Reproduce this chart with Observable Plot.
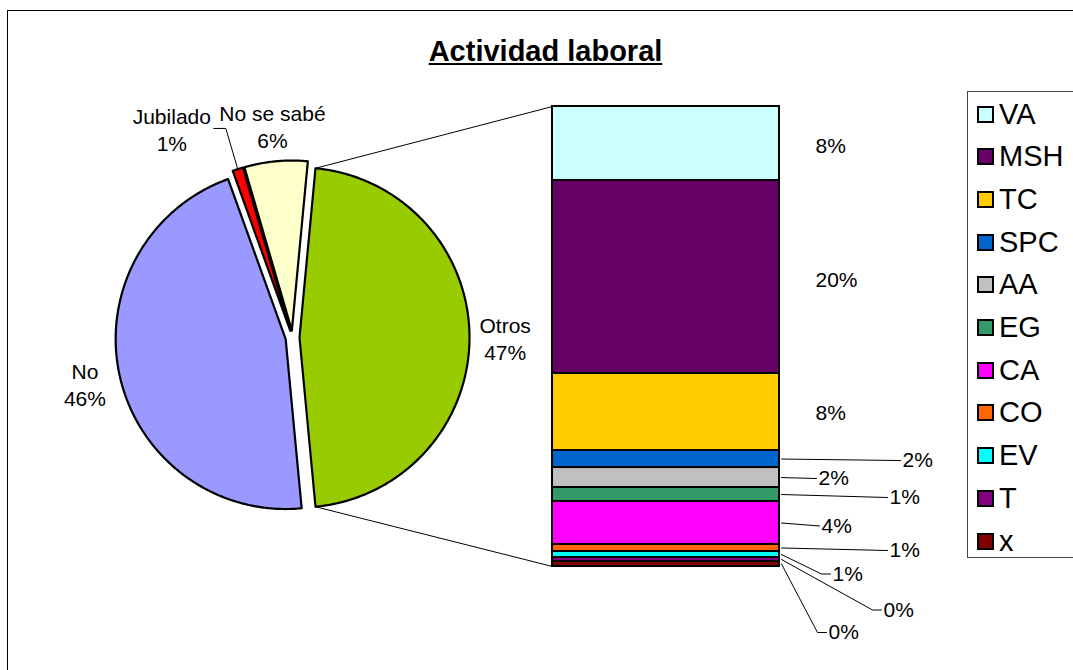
<!DOCTYPE html>
<html>
<head>
<meta charset="utf-8">
<script src="https://cdn.jsdelivr.net/npm/d3@7"></script>
<script src="https://cdn.jsdelivr.net/npm/@observablehq/plot@0.6"></script>
<style>
  body { margin: 0; background: #fff; font-family: "Liberation Sans", Arial, sans-serif; }
  #chart { position: relative; width: 1073px; height: 670px; overflow: hidden; background: #fff; }
  #frame { position: absolute; left: 7px; top: 10px; width: 1200px; height: 800px;
           border-left: 1.5px solid #000; border-top: 1.5px solid #000; }
  #title { position: absolute; left: 0; width: 1091px; top: 37px; text-align: center;
           font-weight: bold; font-size: 29px; line-height: 29px; text-decoration: underline; color: #000; }
  .layer { position: absolute; left: 0; top: 0; }
  #legend { position: absolute; left: 967px; top: 91px; width: 200px; height: 467px;
            border: 1px solid #444; box-sizing: border-box; }
  .sw { position: absolute; width: 17px; height: 17px; border: 2px solid #000; box-sizing: border-box; }
  .lt { position: absolute; font-size: 29px; line-height: 29px; color: #000; }
</style>
</head>
<body>
<div id="chart">
  <div id="frame"></div>
</div>
<script>
// ---------------- data ----------------
const chartTitle = "Actividad laboral";
const pieCategories = ["Otros", "No", "Jubilado", "No se sabé"];
const pieValues = [47, 46, 1, 6];
const pieLabels = ["47%", "46%", "1%", "6%"];
const pieColors = ["#99CC00", "#9999FF", "#FF0000", "#FFFFCC"];

const barCategories = ["VA", "MSH", "TC", "SPC", "AA", "EG", "CA", "CO", "EV", "T", "x"];
const barValues = [7.56, 19.72, 7.87, 1.74, 2.04, 1.43, 4.39, 0.72, 0.61, 0.41, 0.51];
const barLabels = ["8%", "20%", "8%", "2%", "2%", "1%", "4%", "1%", "1%", "0%", "0%"];
const barColors = ["#CCFFFF", "#660066", "#FFCC00", "#0066CC", "#C0C0C0", "#339966",
                   "#FF00FF", "#FF6600", "#00FFFF", "#800080", "#800000"];

// ---------------- layout ----------------
const W = 1073, H = 670;
const cx = 292, cy = 337, R = 170, explode = 7;          // pie (pixels)
const barX0 = 552, barX1 = 779, barY0 = 106, barY1 = 566; // bar (pixels)
const labelFont = 21;
const pieLabelR = 1.21;
const pieLabelOverride = { "Jubilado": { angleDeg: -30, r: 1.42, leader: true } };
// bar label placement: dx = left edge of label from bar right edge, dy = offset from segment middle (px, down)
const barLabelPlace = [
  {dx: 36, dy: 3, leader: false}, {dx: 36, dy: 3.5, leader: false}, {dx: 36, dy: 1.5, leader: false},
  {dx: 123, dy: 1.5, leader: true}, {dx: 39, dy: 1, leader: true}, {dx: 110, dy: 3, leader: true},
  {dx: 42, dy: 3, leader: true}, {dx: 110, dy: 2.5, leader: true}, {dx: 53, dy: 19.5, leader: true},
  {dx: 104, dy: 50.5, leader: true}, {dx: 49, dy: 68.5, leader: true}
];

const chart = document.getElementById("chart");
const font = "'Liberation Sans', Arial, sans-serif";

// ---------------- pie ----------------
const pieSum = d3.sum(pieValues);
const s0 = Math.PI / 2 - Math.PI * pieValues[0] / pieSum;
const arcs = d3.pie().sort(null).startAngle(s0).endAngle(s0 + 2 * Math.PI)(pieValues);
const e = explode / R;
const sliceRows = [];
const pieLabelRows = [];
const leaderRows = [];
let otrosArc = null;
arcs.forEach((a, i) => {
  const m = (a.startAngle + a.endAngle) / 2;
  const ox = e * Math.sin(m), oy = e * Math.cos(m);
  const name = pieCategories[i];
  sliceRows.push({name, x: ox, y: oy, color: pieColors[i]});
  const n = Math.max(4, Math.ceil((a.endAngle - a.startAngle) / (Math.PI / 360)));
  for (let k = 0; k <= n; k++) {
    const t = a.startAngle + (a.endAngle - a.startAngle) * k / n;
    sliceRows.push({name, x: ox + Math.sin(t), y: oy + Math.cos(t), color: pieColors[i]});
  }
  if (i === 0) otrosArc = {a, ox, oy};
  const ov = pieLabelOverride[name];
  let lx, ly;
  if (ov) {
    const t = ov.angleDeg * Math.PI / 180;
    lx = ov.r * Math.sin(t); ly = ov.r * Math.cos(t);
    if (ov.leader) {
      const p1x = lx + 42 / R, p2x = p1x + 12 / R;
      leaderRows.push({id: name, x: p1x, y: ly});
      leaderRows.push({id: name, x: p2x, y: ly});
      leaderRows.push({id: name, x: ox + Math.sin(m), y: oy + Math.cos(m)});
    }
  } else {
    lx = ox + pieLabelR * Math.sin(m); ly = oy + pieLabelR * Math.cos(m);
  }
  pieLabelRows.push({x: lx, y: ly, text: name + "\n" + pieLabels[i]});
});

// connectors from Otros slice edges to bar corners
const bxU = (barX0 - cx) / R;
const connectorRows = [
  {x1: otrosArc.ox + Math.sin(otrosArc.a.startAngle), y1: otrosArc.oy + Math.cos(otrosArc.a.startAngle),
   x2: bxU, y2: (cy - barY0) / R},
  {x1: otrosArc.ox + Math.sin(otrosArc.a.endAngle), y1: otrosArc.oy + Math.cos(otrosArc.a.endAngle),
   x2: bxU, y2: (cy - barY1) / R}
];

const piePlot = Plot.plot({
  width: W, height: H, margin: 0,
  x: {domain: [-cx / R, (W - cx) / R], range: [0, W], axis: null},
  y: {domain: [(cy - H) / R, cy / R], range: [H, 0], axis: null},
  color: {type: "identity"},
  style: {background: "transparent", fontFamily: font, overflow: "visible"},
  marks: [
    Plot.link(connectorRows, {x1: "x1", y1: "y1", x2: "x2", y2: "y2", stroke: "#000", strokeWidth: 1}),
    Plot.line(sliceRows, {x: "x", y: "y", z: "name", fill: "color", stroke: "#000", strokeWidth: 2.2,
                          curve: "linear-closed", strokeLinejoin: "round"}),
    Plot.line(leaderRows, {x: "x", y: "y", z: "id", stroke: "#000", strokeWidth: 1}),
    Plot.text(pieLabelRows, {x: "x", y: "y", text: "text", fontSize: labelFont, lineHeight: 1.3, fill: "#000"})
  ]
});
piePlot.classList.add("layer");
chart.appendChild(piePlot);

// ---------------- bar ----------------
const barTotal = d3.sum(barValues);
const barData = barCategories.map((c, i) => ({cat: c, value: barValues[i], color: barColors[i]}));
const uPerPx = barTotal / (barY1 - barY0);
const xPerPx = 1 / (barX1 - barX0);
let acc = barTotal;
const barLabelRows = [], barLeaderRows = [];
barData.forEach((d, i) => {
  const top = acc; acc -= d.value;
  const mid = (top + acc) / 2;
  const p = barLabelPlace[i];
  const lx = 1 + p.dx * xPerPx;
  const ly = mid - p.dy * uPerPx;
  barLabelRows.push({x: lx, y: ly, text: barLabels[i]});
  if (p.leader) {
    const endX = lx - 2 * xPerPx;
    barLeaderRows.push({id: d.cat, x: 1 + 2 * xPerPx, y: mid});
    if (Math.abs(p.dy) > 5) barLeaderRows.push({id: d.cat, x: endX - 9 * xPerPx, y: ly});
    barLeaderRows.push({id: d.cat, x: endX, y: ly});
  }
});

const barPlot = Plot.plot({
  width: W, height: H,
  marginLeft: barX0, marginRight: W - barX1, marginTop: barY0, marginBottom: H - barY1,
  x: {domain: [0, 1], axis: null},
  y: {domain: [0, barTotal], axis: null},
  color: {type: "identity"},
  style: {background: "transparent", fontFamily: font, overflow: "visible"},
  marks: [
    Plot.rectY(barData, Plot.stackY({x1: 0, x2: 1, y: "value", fill: "color", stroke: "#000",
                                     strokeWidth: 2, reverse: true})),
    Plot.line(barLeaderRows, {x: "x", y: "y", z: "id", stroke: "#000", strokeWidth: 1}),
    Plot.text(barLabelRows, {x: "x", y: "y", text: "text", textAnchor: "start", fontSize: labelFont, fill: "#000"})
  ]
});
barPlot.classList.add("layer");
chart.appendChild(barPlot);

// ---------------- legend ----------------
const legend = document.createElement("div");
legend.id = "legend";
barCategories.forEach((c, i) => {
  const yc = 113 - 91 + i * 42.7;
  const sw = document.createElement("div");
  sw.className = "sw";
  sw.style.left = "9px";
  sw.style.top = (yc - 8.5) + "px";
  sw.style.background = barColors[i];
  legend.appendChild(sw);
  const t = document.createElement("div");
  t.className = "lt";
  t.style.left = "31px";
  t.style.top = (yc - 14.5) + "px";
  t.textContent = c;
  legend.appendChild(t);
});
chart.appendChild(legend);

// ---------------- title ----------------
const title = document.createElement("div");
title.id = "title";
title.textContent = chartTitle;
chart.appendChild(title);
</script>
</body>
</html>
